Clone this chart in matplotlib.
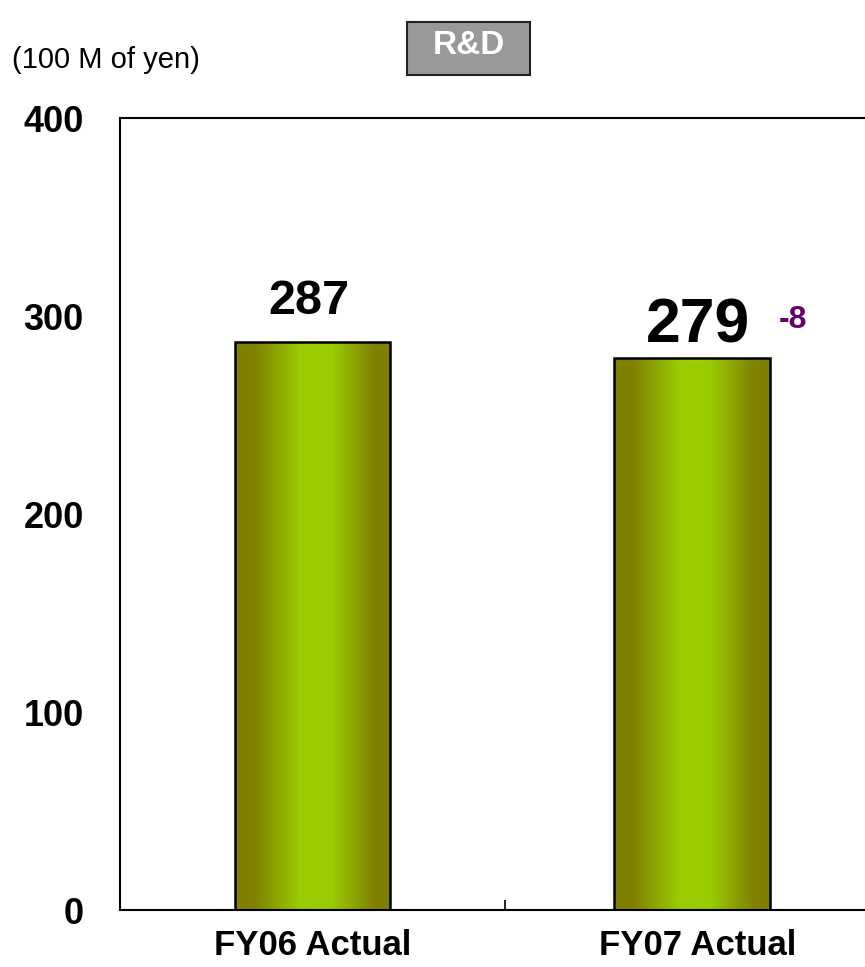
import matplotlib.pyplot as plt
import numpy as np
from matplotlib.colors import LinearSegmentedColormap
from matplotlib.patches import FancyBboxPatch

plt.rcParams["font.family"] = ["Liberation Sans", "DejaVu Sans"]

categories = ["FY06 Actual", "FY07 Actual"]
values = [287, 279]
value_labels = ["287", "279"]
change_label = "-8"
y_ticks = [0, 100, 200, 300, 400]

W, H = 865, 967
fig = plt.figure(figsize=(W / 100, H / 100), dpi=100)

# axes run off the right edge of the picture, as in the original slide
ax = fig.add_axes([120 / W, (H - 910) / H, 770 / W, 792 / H])
ax.set_xlim(-0.5, 1.5)
ax.set_ylim(0, 400)

for side in ["left", "top", "bottom", "right"]:
    ax.spines[side].set_linewidth(1.5)
    ax.spines[side].set_color("black")

# olive -> bright green -> olive across each bar
olive = "#808000"
bright = "#99cc00"
cmap = LinearSegmentedColormap.from_list(
    "barshade",
    [(0.0, olive), (0.12, olive), (0.42, bright), (0.62, bright), (0.9, olive), (1.0, olive)],
)
grad = np.linspace(0, 1, 256).reshape(1, -1)

bar_w = 0.405
bars = ax.bar([0, 0.985], values, width=bar_w, facecolor="none",
              edgecolor="black", linewidth=1.8, zorder=3)
for b in bars:
    x0, y0 = b.get_x(), b.get_y()
    im = ax.imshow(grad, cmap=cmap, aspect="auto", zorder=2,
                   extent=[x0, x0 + b.get_width(), y0, y0 + b.get_height()])
    im.set_clip_path(b)

# value labels above the bars
ax.annotate(value_labels[0], (0, values[0]), xytext=(-4, 18), textcoords="offset pixels",
            ha="center", va="bottom", fontsize=35, fontweight="bold")
ax.annotate(value_labels[1], (1, values[1]), xytext=(0, 2), textcoords="offset pixels",
            ha="center", va="bottom", fontsize=45, fontweight="bold")
ax.annotate(change_label, (1, values[1]), xytext=(95, 23), textcoords="offset pixels",
            ha="center", va="bottom", fontsize=23, fontweight="bold", color="#660066")

ax.set_yticks(y_ticks)
ax.set_yticklabels([str(v) for v in y_ticks], fontsize=26, fontweight="bold")
ax.tick_params(axis="y", length=0, pad=26)

ax.set_xticks(range(len(categories)))
ax.set_xticklabels(categories, fontsize=25, fontweight="bold")
ax.tick_params(axis="x", which="major", length=0, pad=14)
ax.set_xticks([0.5], minor=True)
ax.tick_params(axis="x", which="minor", direction="in", length=7, width=1.2)

fig.text(12 / W, 1 - 60 / H, "(100 M of yen)", fontsize=21, va="center", ha="left")

box = FancyBboxPatch((407 / W, 1 - 75 / H), 123 / W, 53 / H, boxstyle="square,pad=0",
                     transform=fig.transFigure, facecolor="#999999", edgecolor="#222222",
                     linewidth=1.5)
fig.patches.append(box)
fig.text(469 / W, 1 - 46 / H, "R&D", fontsize=24, fontweight="bold", color="white",
         ha="center", va="center")

fig.savefig("out.png", dpi=100)
